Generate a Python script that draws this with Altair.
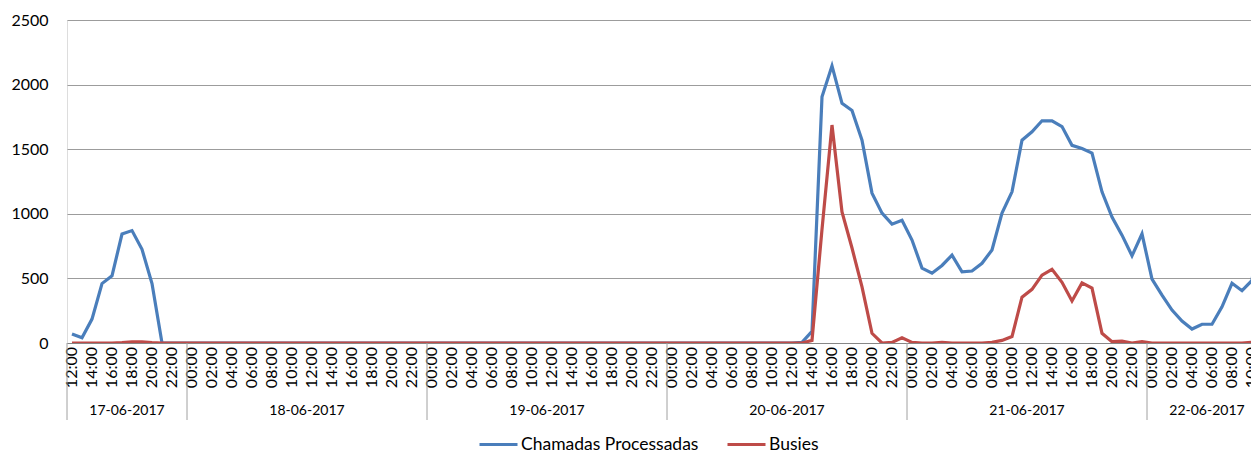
import altair as alt
import pandas as pd

# ---- data (hourly, 17-06-2017 12:00 -> 22-06-2017 11:00) ----
days = ["17-06-2017", "18-06-2017", "19-06-2017", "20-06-2017", "21-06-2017", "22-06-2017"]
hours_per_day = [12, 24, 24, 24, 24, 12]
first_hour = [12, 0, 0, 0, 0, 0]

chamadas_17 = [70, 40, 185, 460, 520, 843, 870, 725, 460, 0, 0, 0]
chamadas_18 = [0] * 24
chamadas_19 = [0] * 24
chamadas_20 = [0, 0, 0, 0, 0, 0, 0, 0, 0, 0, 0, 0, 0,
               5, 90, 1905, 2145, 1855, 1800, 1570, 1160, 1005, 920, 950]
chamadas_21 = [797, 580, 540, 600, 680, 550, 557, 617, 720, 1005, 1170, 1570,
               1635, 1720, 1720, 1675, 1530, 1505, 1470, 1170, 975, 835, 675, 845]
chamadas_22 = [495, 370, 255, 170, 108, 145, 145, 280, 462, 405, 485, 1000]

busies_17 = [0, 0, 0, 0, 0, 3, 8, 8, 3, 0, 0, 0]
busies_18 = [0] * 24
busies_19 = [0] * 24
busies_20 = [0, 0, 0, 0, 0, 0, 0, 0, 0, 0, 0, 0, 0,
             0, 20, 880, 1687, 1015, 735, 435, 75, 0, 5, 40]
busies_21 = [5, 0, 0, 5, 0, 0, 0, 0, 5, 20, 50, 355,
             415, 525, 570, 470, 325, 465, 425, 75, 10, 15, 0, 10]
busies_22 = [0, 0, 0, 0, 0, 0, 0, 0, 0, 0, 5, 20]

series_names = ["Chamadas Processadas", "Busies"]
series_colors = ["#4A7EBB", "#BE4B48"]
y_ticks = [0, 500, 1000, 1500, 2000, 2500]

chamadas = chamadas_17 + chamadas_18 + chamadas_19 + chamadas_20 + chamadas_21 + chamadas_22
busies = busies_17 + busies_18 + busies_19 + busies_20 + busies_21 + busies_22

# category labels (hour of each position)
hour_labels = []
for fh, n in zip(first_hour, hours_per_day):
    for h in range(fh, fh + n):
        hour_labels.append(f"{h:02d}:00")
n_cat = len(hour_labels)

rows = []
for i in range(n_cat):
    rows.append({"i": i, "serie": series_names[0], "v": chamadas[i]})
    rows.append({"i": i, "serie": series_names[1], "v": busies[i]})
df = pd.DataFrame(rows)

# shown hour labels (every 2nd category)
df_hours = pd.DataFrame({"i": list(range(0, n_cat, 2)),
                         "lab": [hour_labels[k] for k in range(0, n_cat, 2)]})

# day groups
bounds = []
centers = []
start = 0
for d, n in zip(days, hours_per_day):
    bounds.append(start - 0.5)
    centers.append({"day": d, "c": start + (n - 1) / 2})
    start += n
df_bounds = pd.DataFrame({"b": bounds})
df_days = pd.DataFrame(centers)

W, H = 1184, 323
x_max = -0.5 + W / 10.0  # image is cut at the right edge
x_scale = alt.Scale(domain=[-0.5, x_max], nice=False, zero=False)

FONT = "Lato"
TXT = "#000000"

lines = alt.Chart(df).mark_line(strokeWidth=3.2, clip=True, interpolate="linear").encode(
    x=alt.X("i:Q", scale=x_scale,
            axis=alt.Axis(labels=False, ticks=False, grid=False, domain=True,
                          domainColor="#868686", domainWidth=1, title=None)),
    y=alt.Y("v:Q", scale=alt.Scale(domain=[0, 2500], nice=False),
            axis=alt.Axis(values=y_ticks, format="d", ticks=False, domain=False, grid=True,
                          gridColor="#9C9C9C", gridWidth=1.2, labelPadding=19,
                          labelFont=FONT, labelFontSize=16, labelColor=TXT, title=None)),
    color=alt.Color("serie:N", sort=series_names,
                    scale=alt.Scale(domain=series_names, range=series_colors),
                    legend=alt.Legend(title=None, orient="none", direction="horizontal",
                                      legendX=411, legendY=404,
                                      symbolType="stroke", symbolSize=1444, symbolStrokeWidth=3,
                                      labelFont=FONT, labelFontSize=17.5, labelColor=TXT,
                                      labelOffset=2, columnPadding=22, labelLimit=400)),
    order=alt.Order("i:Q"),
)

hour_text = alt.Chart(df_hours).mark_text(font=FONT, fontSize=16, color=TXT, angle=270,
                                          align="right", baseline="middle").encode(
    x=alt.X("i:Q", scale=x_scale),
    y=alt.value(H + 4),
    text="lab:N",
)

seps = alt.Chart(df_bounds).mark_rule(color="#A0A0A0", strokeWidth=1).encode(
    x=alt.X("b:Q", scale=x_scale),
    y=alt.value(H),
    y2=alt.value(H + 77),
)

day_text = alt.Chart(df_days).mark_text(font=FONT, fontSize=14, color=TXT,
                                        baseline="middle", align="center").encode(
    x=alt.X("c:Q", scale=x_scale),
    y=alt.value(H + 68),
    text="day:N",
)

chart = alt.layer(lines, hour_text, seps, day_text).properties(
    width=W, height=H,
    autosize=alt.AutoSizeParams(type="none"),
    padding={"left": 59, "top": 12, "right": 0, "bottom": 110},
).configure_view(stroke=None).configure(background="white")

chart.save("out.html", embed_options={"renderer": "svg", "actions": False})
